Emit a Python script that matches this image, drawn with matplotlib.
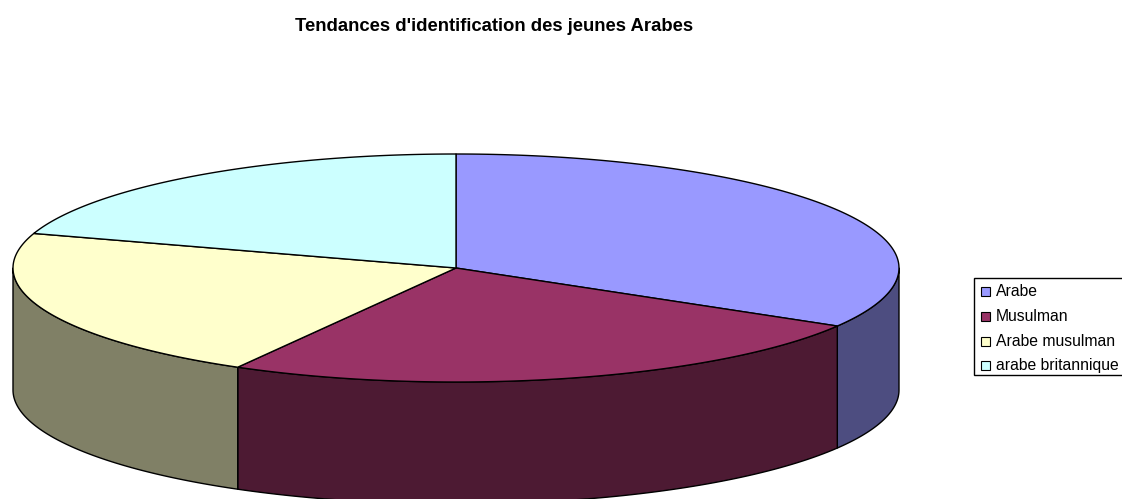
import numpy as np
import matplotlib
matplotlib.use("Agg")
import matplotlib.pyplot as plt
from matplotlib.patches import Polygon, Rectangle

# chart data (shares in %)
labels = ["Arabe", "Musulman", "Arabe musulman", "arabe britannique"]
values = [33.5, 24.7, 21.7, 20.1]
top_colors = ["#9999FF", "#993366", "#FFFFCC", "#CCFFFF"]
title = "Tendances d'identification des jeunes Arabes"

plt.rcParams['font.family'] = ['Liberation Sans', 'DejaVu Sans']

W, H = 1122, 499
fig = plt.figure(figsize=(W / 100, H / 100), dpi=100)
ax = fig.add_axes([0, 0, 1, 1])
ax.set_xlim(0, W)
ax.set_ylim(H, 0)
ax.axis("off")

# pie geometry (pixels)
cx, cy = 456, 268
a, b = 443, 114
depth = 122


def pt(t, dy=0.0):
    # t: angle in degrees, clockwise from 12 o'clock
    r = np.deg2rad(t)
    return cx + a * np.sin(r), cy - b * np.cos(r) + dy


def darker(c, f=0.5):
    rgb = np.array(matplotlib.colors.to_rgb(c))
    return tuple(rgb * f)


bounds = np.concatenate([[0], np.cumsum(values) / np.sum(values) * 360])

# side walls (front half only: 90..270 deg)
for i in range(len(values)):
    t0, t1 = max(bounds[i], 90), min(bounds[i + 1], 270)
    if t1 <= t0:
        continue
    ts = np.linspace(t0, t1, 80)
    top = [pt(t) for t in ts]
    bot = [pt(t, depth) for t in ts[::-1]]
    ax.add_patch(Polygon(top + bot, closed=True, facecolor=darker(top_colors[i]),
                         edgecolor="black", linewidth=1.0, joinstyle="round"))

# top faces
for i in range(len(values)):
    ts = np.linspace(bounds[i], bounds[i + 1], 120)
    verts = [(cx, cy)] + [pt(t) for t in ts]
    ax.add_patch(Polygon(verts, closed=True, facecolor=top_colors[i],
                         edgecolor="black", linewidth=1.0, joinstyle="round"))

ax.text(494, 26, title, ha="center", va="center", fontsize=13.3, fontweight="bold")

# legend
lx, ly, lw, lh = 974, 278, 150, 97
ax.add_patch(Rectangle((lx, ly), lw, lh, facecolor="white", edgecolor="black", linewidth=1.0))
for i, lab in enumerate(labels):
    yy = 291.5 + i * 24.8
    ax.add_patch(Rectangle((981, yy - 4.5), 9, 9, facecolor=top_colors[i],
                           edgecolor="black", linewidth=0.8))
    ax.text(996, yy, lab, ha="left", va="center", fontsize=11.3)

fig.savefig("out.png", dpi=100)
